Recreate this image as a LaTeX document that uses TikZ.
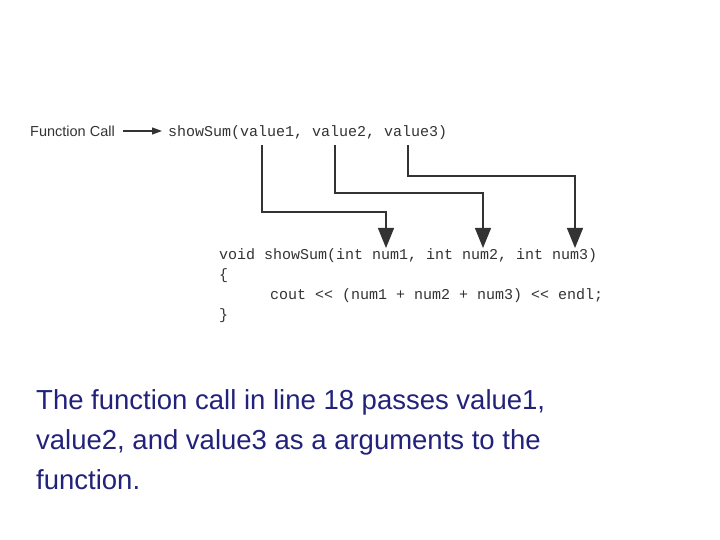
\documentclass[tikz,border=0pt]{standalone}
\usepackage{fontspec}
\setmainfont{Liberation Sans}
\setmonofont{Liberation Mono}
\usetikzlibrary{arrows.meta}
\definecolor{navy}{HTML}{22227A}
\definecolor{ink}{HTML}{333333}
\begin{document}
\begin{tikzpicture}[x=1pt,y=-1pt,
  code/.style={anchor=base west,inner sep=0pt,font=\ttfamily\fontsize{15}{17}\selectfont,text=ink},
  lbl/.style={anchor=base west,inner sep=0pt,font=\fontsize{14.5}{16}\selectfont,text=ink},
  body/.style={anchor=base west,inner sep=0pt,font=\fontsize{27.5}{40}\selectfont,text=navy},
  conn/.style={draw=ink,line width=1.3pt,-{Triangle[width=16pt,length=20pt]}}]
\useasboundingbox (0,0) rectangle (720,540);
\node[lbl] (fc) at (30,137) {Function Call};
\node[code] (call) at (168,137) {showSum(value1, value2, value3)};
\coordinate (a0) at (123,131); \coordinate (a1) at (162,131);
\draw[draw=ink,line width=1.2pt,-{Triangle[width=7pt,length=10pt]}] (a0) -- (a1);
\coordinate (v1) at (262,145); \coordinate (v2) at (335,145); \coordinate (v3) at (408,145);
\coordinate (p1) at (386,248); \coordinate (p2) at (483,248); \coordinate (p3) at (575,248);
\draw[conn] (v1) |- (386,212) -- (p1);
\draw[conn] (v2) |- (483,193) -- (p2);
\draw[conn] (v3) |- (575,176) -- (p3);
\node[code] (l1) at (219,259) {void showSum(int num1, int num2, int num3)};
\node[code] (l2) at (219,279) {\{};
\node[code] (l3) at (270,299) {cout << (num1 + num2 + num3) << endl;};
\node[code] (l4) at (219,319) {\}};
\node[body] (t1) at (36,409) {The function call in line 18 passes value1,};
\node[body] (t2) at (36,449) {value2, and value3 as a arguments to the};
\node[body] (t3) at (36,489) {function.};
\end{tikzpicture}
\end{document}
